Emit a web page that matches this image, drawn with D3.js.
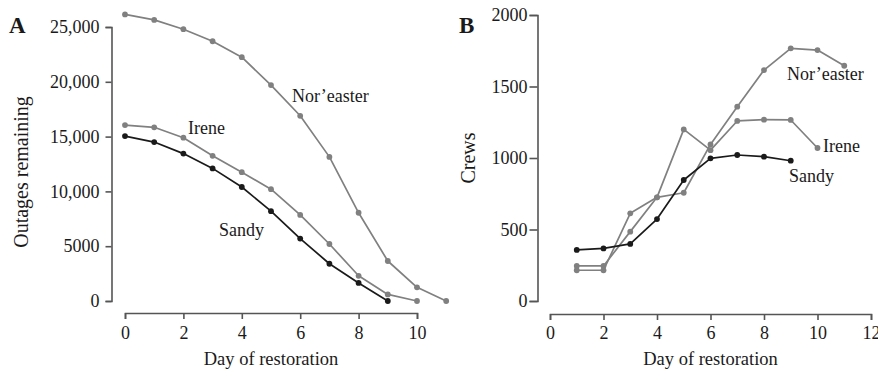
<!DOCTYPE html>
<html>
<head>
<meta charset="utf-8">
<script src="https://cdn.jsdelivr.net/npm/d3@7/dist/d3.min.js"></script>
<style>
  html, body { margin: 0; padding: 0; background: #fff; }
  svg { display: block; font-family: "Liberation Serif", "Times New Roman", serif; }
</style>
</head>
<body>
<svg id="chart" width="878" height="372"></svg>
<script>
// ---------- Data ----------
// Panel A: outages remaining, day 0 onward
const outageNoreaster = [26150, 25650, 24800, 23700, 22250, 19700, 16900, 13150, 8050, 3650, 1250, 0];
const outageIrene     = [16050, 15850, 14900, 13250, 11750, 10200, 7850, 5200, 2300, 600, 0];
const outageSandy     = [15050, 14500, 13450, 12100, 10400, 8200, 5700, 3400, 1650, 0];

// Panel B: crews, day 1 onward
const crewsNoreaster = [215, 215, 613, 725, 757, 1095, 1359, 1615, 1767, 1755, 1645];
const crewsIrene     = [245, 245, 485, 725, 1200, 1055, 1259, 1268, 1266, 1070];
const crewsSandy     = [357, 368, 399, 573, 846, 998, 1021, 1009, 981];

const seriesNames = ["Nor\u2019easter", "Irene", "Sandy"];

const ticksAx = [0, 2, 4, 6, 8, 10];
const ticksAy = [0, 5000, 10000, 15000, 20000, 25000];
const ticksAyLabels = ["0", "5000", "10,000", "15,000", "20,000", "25,000"];
const ticksBx = [0, 2, 4, 6, 8, 10, 12];
const ticksBy = [0, 500, 1000, 1500, 2000];
const ticksByLabels = ["0", "500", "1000", "1500", "2000"];

const xTitle = "Day of restoration";
const yTitleA = "Outages remaining";
const yTitleB = "Crews";

// ---------- Styles ----------
const GRAY = "#808080";
const BLACK = "#1a1a1a";
const AXIS = "#555";
const TEXT = "#1a1a1a";

const svg = d3.select("#chart");

function styleAxis(g) {
  g.select(".domain").attr("stroke", AXIS).attr("stroke-width", 1.6);
  g.selectAll(".tick line").attr("stroke", AXIS).attr("stroke-width", 1.6);
  g.selectAll(".tick text").attr("fill", TEXT).style("font-size", "18px")
    .style("font-family", "'Liberation Serif', serif");
}

function drawSeries(g, x, y, values, startDay, color) {
  const pts = values.map((v, i) => [startDay + i, v]);
  g.append("path")
    .datum(pts)
    .attr("fill", "none")
    .attr("stroke", color)
    .attr("stroke-width", 1.7)
    .attr("stroke-linejoin", "round")
    .attr("d", d3.line().x(d => x(d[0])).y(d => y(d[1])));
  g.selectAll(null)
    .data(pts)
    .enter().append("circle")
    .attr("cx", d => x(d[0]))
    .attr("cy", d => y(d[1]))
    .attr("r", 2.9)
    .attr("fill", color);
}

function label(text, xPos, yPos, size, weight) {
  svg.append("text")
    .attr("x", xPos).attr("y", yPos)
    .attr("fill", TEXT)
    .style("font-size", size + "px")
    .style("font-weight", weight || "normal")
    .text(text);
}

// ---------- Panel A ----------
const xA = d3.scaleLinear().domain([0, 10]).range([125, 417]);
const yA = d3.scaleLinear().domain([0, 25000]).range([301, 27]);

const gAy = svg.append("g").attr("transform", "translate(111.5,0)")
  .call(d3.axisLeft(yA).tickValues(ticksAy).tickSizeOuter(0).tickSize(6).tickPadding(6)
    .tickFormat((d, i) => ticksAyLabels[i]));
styleAxis(gAy);

const gAx = svg.append("g").attr("transform", "translate(0,313)")
  .call(d3.axisBottom(xA).tickValues(ticksAx).tickSizeOuter(0).tickSize(6).tickPadding(7));
styleAxis(gAx);

const gA = svg.append("g");
drawSeries(gA, xA, yA, outageNoreaster, 0, GRAY);
drawSeries(gA, xA, yA, outageIrene, 0, GRAY);
drawSeries(gA, xA, yA, outageSandy, 0, BLACK);

label(seriesNames[0], 292, 101.5, 18);
label(seriesNames[1], 188, 134, 18);
label(seriesNames[2], 219, 235.5, 18);

svg.append("text")
  .attr("x", 271).attr("y", 365)
  .attr("text-anchor", "middle").attr("fill", TEXT)
  .style("font-size", "18.5px").text(xTitle);

svg.append("text")
  .attr("transform", "translate(28,172) rotate(-90)")
  .attr("text-anchor", "middle").attr("fill", TEXT)
  .style("font-size", "20px").text(yTitleA);

label("A", 9, 33, 23, "bold");

// ---------- Panel B ----------
const xB = d3.scaleLinear().domain([0, 12]).range([550, 871]);
const yB = d3.scaleLinear().domain([0, 2000]).range([301, 15]);

const gBy = svg.append("g").attr("transform", "translate(537.5,0)")
  .call(d3.axisLeft(yB).tickValues(ticksBy).tickSizeOuter(0).tickSize(8).tickPadding(2)
    .tickFormat((d, i) => ticksByLabels[i]));
styleAxis(gBy);

const gBx = svg.append("g").attr("transform", "translate(0,314)")
  .call(d3.axisBottom(xB).tickValues(ticksBx).tickSizeOuter(0).tickSize(6).tickPadding(6));
styleAxis(gBx);

const gB = svg.append("g");
drawSeries(gB, xB, yB, crewsNoreaster, 1, GRAY);
drawSeries(gB, xB, yB, crewsIrene, 1, GRAY);
drawSeries(gB, xB, yB, crewsSandy, 1, BLACK);

label(seriesNames[0], 787, 80, 18);
label(seriesNames[1], 823, 151.5, 18);
label(seriesNames[2], 789, 181.5, 18);

svg.append("text")
  .attr("x", 710.5).attr("y", 365)
  .attr("text-anchor", "middle").attr("fill", TEXT)
  .style("font-size", "18.5px").text(xTitle);

svg.append("text")
  .attr("transform", "translate(475,158) rotate(-90)")
  .attr("text-anchor", "middle").attr("fill", TEXT)
  .style("font-size", "20px").text(yTitleB);

label("B", 459, 33, 23, "bold");
</script>
</body>
</html>
